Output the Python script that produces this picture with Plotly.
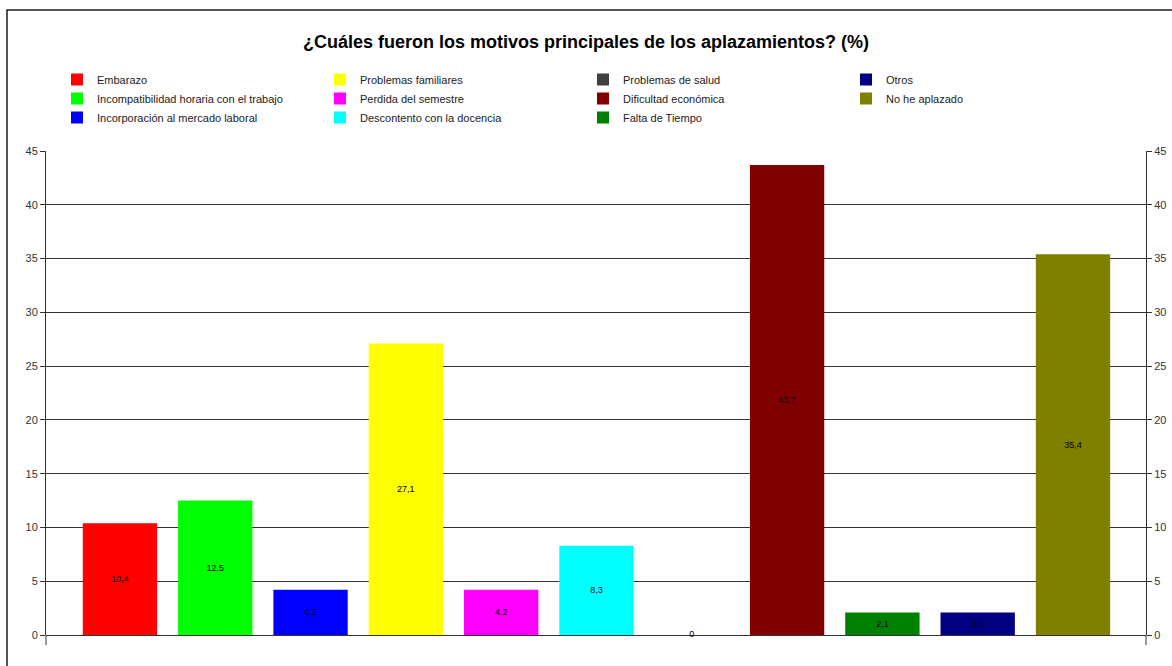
import plotly.graph_objects as go

categories = [
    "Embarazo",
    "Incompatibilidad horaria con el trabajo",
    "Incorporación al mercado laboral",
    "Problemas familiares",
    "Perdida del semestre",
    "Descontento con la docencia",
    "Problemas de salud",
    "Dificultad económica",
    "Falta de Tiempo",
    "Otros",
    "No he aplazado",
]
values = [10.4, 12.5, 4.2, 27.1, 4.2, 8.3, 0, 43.7, 2.1, 2.1, 35.4]
colors = [
    "#FF0000", "#00FF00", "#0000FF", "#FFFF00", "#FF00FF", "#00FFFF",
    "#404040", "#800000", "#008000", "#000080", "#808000",
]
# legend is filled column by column (3 rows) in the original
legend_rows = 3

W, H = 1172, 666
L, R, T, B = 46, 26, 151, 31
pw, ph = W - L - R, H - T - B

fig = go.Figure()

for i, (cat, val, col) in enumerate(zip(categories, values, colors)):
    rank = (i % legend_rows) * 10 + i // legend_rows
    fig.add_trace(
        go.Bar(
            x=[cat],
            y=[val],
            name=cat,
            marker=dict(color=col, line=dict(width=0)),
            width=0.78,
            text=[val] if val > 0 else None,
            texttemplate="%{y:.1f}",
            textposition="inside",
            insidetextanchor="middle",
            textangle=0,
            textfont=dict(size=9, color="black", family="Liberation Sans, Arial"),
            legendrank=rank + 1,
        )
    )

# zero-valued bar label sits on the baseline
zero_x = [c for c, v in zip(categories, values) if v == 0]
zero_y = [v for v in values if v == 0]
fig.add_trace(
    go.Scatter(
        x=zero_x,
        y=zero_y,
        mode="text",
        text=[str(v) for v in zero_y],
        textfont=dict(size=9, color="black", family="Liberation Sans, Arial"),
        showlegend=False,
        hoverinfo="skip",
        cliponaxis=False,
    )
)

# invisible trace so the right-hand axis is drawn
fig.add_trace(
    go.Scatter(x=[categories[0]], y=[0], yaxis="y2", mode="markers",
               marker=dict(opacity=0), showlegend=False, hoverinfo="skip")
)


def px_x(p):
    return (p - L) / pw


def px_y(p):
    return (H - B - p) / ph


# outer frame (runs off the right and bottom edges)
fig.add_shape(
    type="rect", xref="paper", yref="paper",
    x0=px_x(7), x1=px_x(1200), y0=px_y(700), y1=px_y(10),
    line=dict(color="#1a1a1a", width=1.5), fillcolor="rgba(0,0,0,0)",
    layer="below",
)
# axis lines poke a little below zero
for xp in (0, 1):
    fig.add_shape(
        type="line", xref="paper", yref="paper",
        x0=xp, x1=xp, y0=px_y(645), y1=0,
        line=dict(color="#333", width=1),
    )

axis_common = dict(
    range=[0, 45],
    dtick=5,
    automargin=False,
    showline=True,
    linecolor="#333",
    linewidth=1,
    ticks="outside",
    ticklen=5,
    tickcolor="#333",
    tickfont=dict(size=11, color="#333"),
)

fig.update_layout(
    width=W,
    height=H,
    margin=dict(l=L, r=R, t=T, b=B, autoexpand=False),
    paper_bgcolor="white",
    plot_bgcolor="white",
    barmode="overlay",
    separators=",.",
    font=dict(family="Liberation Sans, Arial", size=12, color="#222"),
    title=dict(
        text="<b>¿Cuáles fueron los motivos principales de los aplazamientos? (%)</b>",
        x=0.5, xanchor="center", y=1 - 42 / H, yanchor="middle",
        font=dict(size=18, color="black", family="Liberation Sans, Arial"),
    ),
    legend=dict(
        orientation="h",
        x=px_x(57), xanchor="left",
        y=px_y(65), yanchor="top",
        entrywidth=218,
        font=dict(size=11, color="#222"),
        traceorder="normal",
        itemclick=False,
    ),
    xaxis=dict(
        type="category",
        categoryorder="array",
        categoryarray=categories,
        range=[-0.776, 10.766],
        automargin=False,
        showticklabels=False,
        showgrid=False,
        zeroline=False,
        showline=False,
        ticks="",
    ),
    yaxis=dict(
        showgrid=True,
        gridcolor="#333",
        gridwidth=1,
        zeroline=True,
        zerolinecolor="#333",
        zerolinewidth=1,
        **axis_common,
    ),
    yaxis2=dict(
        overlaying="y",
        side="right",
        showgrid=False,
        zeroline=False,
        **axis_common,
    ),
)

# page body has a default 8px margin; drop it so the figure sits at 0,0
fig.write_html(
    "out.html",
    config={"displayModeBar": False},
    post_script="document.body.style.margin='0';",
)
